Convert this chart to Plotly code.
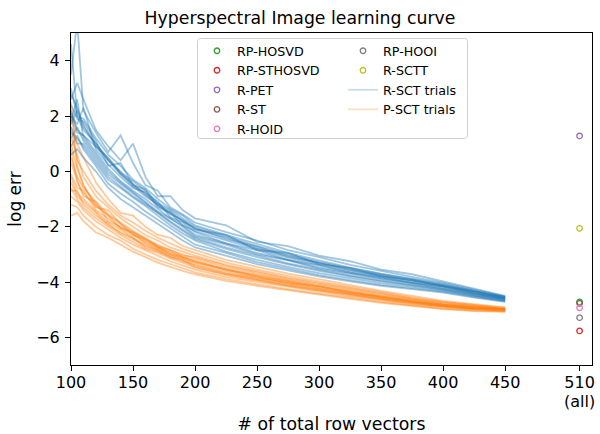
import plotly.graph_objects as go

# ---------------- data ----------------
x_trials = [100, 105, 110, 120, 130, 140, 150, 160, 170, 180, 190,
            200, 225, 250, 275, 300, 325, 350, 375, 400, 425, 450]

r_sct_trials = [
    [2.8, 2.3, 1.6, 1.0, 0.45, -0.1, -0.45, -0.85, -1.2, -1.45, -1.8,
     -2.08, -2.4, -2.78, -3.05, -3.33, -3.57, -3.78, -3.95, -4.14, -4.36, -4.57],
    [1.4, 1.2, 0.9, 0.3, -0.3, -0.6, -0.95, -1.25, -1.6, -1.95, -2.25,
     -2.5, -2.9, -3.2, -3.45, -3.68, -3.86, -4.04, -4.17, -4.31, -4.5, -4.68],
    [3.5, 5.4, 2.2, 1.4, 0.7, 1.3, 0.3, -0.5, -0.7, -1.3, -1.55,
     -1.85, -2.2, -2.5, -2.85, -3.1, -3.38, -3.6, -3.83, -4.03, -4.28, -4.52],
    [0.9, 1.3, 0.8, 0.2, -0.45, -0.8, -1.1, -1.45, -1.75, -2.05, -2.35,
     -2.65, -2.95, -3.28, -3.52, -3.75, -3.93, -4.1, -4.22, -4.35, -4.54, -4.7],
    [2.4, 1.9, 1.8, 1.1, 0.2, 0.3, -0.5, -0.8, -1.1, -1.65, -1.85,
     -2.2, -2.6, -2.85, -3.2, -3.4, -3.66, -3.83, -4.03, -4.17, -4.41, -4.6],
    [1.8, 2.6, 1.2, 0.6, 0.0, -0.4, -0.75, -1.1, -1.45, -1.7, -2.0,
     -2.35, -2.65, -3.0, -3.22, -3.52, -3.7, -3.9, -4.05, -4.23, -4.43, -4.63],
    [2.2, 1.5, 1.3, 0.9, 0.5, -0.05, -0.35, -0.7, -1.15, -1.4, -1.7,
     -2.0, -2.35, -2.7, -3.0, -3.28, -3.5, -3.72, -3.9, -4.1, -4.33, -4.55],
    [4.6, 2.0, 1.5, 1.0, 0.4, -0.1, -0.55, -0.9, -1.2, -1.55, -1.75,
     -2.1, -2.3, -2.85, -2.95, -3.35, -3.5, -3.8, -3.92, -4.15, -4.35, -4.58],
    [1.2, 1.6, 1.1, 0.5, -0.1, -0.45, -0.8, -1.15, -1.5, -1.8, -2.1,
     -2.4, -2.75, -3.05, -3.33, -3.55, -3.77, -3.95, -4.1, -4.26, -4.47, -4.65],
    [2.0, 1.7, 2.3, 0.8, 0.25, -0.2, -0.6, -0.75, -1.3, -1.5, -1.95,
     -2.15, -2.5, -2.82, -3.12, -3.38, -3.62, -3.81, -3.99, -4.16, -4.39, -4.59],
    [3.0, 2.0, 1.9, 1.2, 0.6, 0.2, -0.3, -0.6, -1.0, -1.35, -1.6,
     -1.95, -2.3, -2.62, -2.95, -3.22, -3.48, -3.7, -3.88, -4.07, -4.31, -4.54],
    [1.6, 1.0, 1.0, 0.4, -0.2, -0.55, -0.9, -1.2, -1.5, -1.85, -2.15,
     -2.45, -2.8, -3.1, -3.36, -3.6, -3.8, -3.98, -4.12, -4.28, -4.48, -4.66],
    [2.6, 3.2, 2.6, 1.5, 0.9, 0.4, 1.0, -0.2, -0.9, -0.9, -1.4,
     -1.7, -1.95, -2.55, -2.7, -3.05, -3.25, -3.55, -3.72, -3.98, -4.24, -4.5],
    [2.1, 1.4, 1.3, 0.7, 0.1, -0.35, -0.7, -1.0, -1.35, -1.7, -1.95,
     -2.3, -2.6, -2.95, -3.2, -3.47, -3.67, -3.87, -4.03, -4.2, -4.42, -4.62],
    [1.7, 2.2, 1.7, 0.9, 0.4, 0.0, -0.5, -0.65, -1.25, -1.5, -1.8,
     -2.05, -2.45, -2.72, -3.08, -3.3, -3.55, -3.75, -3.94, -4.12, -4.34, -4.56],
    [0.6, 0.8, 0.5, 0.0, -0.6, -1.0, -1.3, -1.6, -1.9, -2.2, -2.5,
     -2.75, -3.05, -3.35, -3.58, -3.8, -3.98, -4.14, -4.26, -4.38, -4.56, -4.72],
]

p_sct_trials = [
    [0.5, -0.2, -0.6, -1.1, -1.55, -1.85, -2.15, -2.45, -2.65, -2.85, -3.0,
     -3.15, -3.48, -3.71, -3.92, -4.11, -4.3, -4.48, -4.64, -4.79, -4.89, -4.98],
    [-0.9, -1.1, -1.4, -1.8, -2.1, -2.4, -2.65, -2.85, -3.05, -3.25, -3.4,
     -3.55, -3.82, -4.0, -4.19, -4.35, -4.52, -4.67, -4.8, -4.92, -5.0, -5.04],
    [1.6, 0.4, 0.0, -0.7, -1.2, -1.6, -1.85, -2.15, -2.4, -2.6, -2.8,
     -2.95, -3.3, -3.55, -3.78, -3.98, -4.18, -4.38, -4.56, -4.72, -4.83, -4.94],
    [-1.2, -1.3, -1.6, -2.0, -2.3, -2.5, -2.8, -3.0, -3.2, -3.35, -3.5,
     -3.65, -3.9, -4.09, -4.26, -4.42, -4.58, -4.72, -4.84, -4.96, -5.03, -5.06],
    [2.5, 0.2, -0.5, -1.2, -1.6, -1.9, -2.3, -2.45, -2.75, -2.9, -3.1,
     -3.22, -3.55, -3.76, -3.97, -4.16, -4.34, -4.52, -4.67, -4.82, -4.91, -4.99],
    [-0.4, -0.9, -1.1, -1.5, -1.95, -2.2, -2.4, -2.75, -2.9, -3.1, -3.25,
     -3.4, -3.7, -3.9, -4.09, -4.27, -4.44, -4.6, -4.74, -4.87, -4.96, -5.02],
    [1.0, 0.1, -0.5, -1.3, -1.4, -1.9, -2.2, -2.4, -2.7, -2.85, -3.05,
     -3.1, -3.42, -3.66, -3.88, -4.07, -4.26, -4.45, -4.62, -4.77, -4.88, -4.97],
    [-0.7, -0.7, -1.2, -1.6, -1.9, -2.25, -2.45, -2.7, -2.85, -3.1, -3.2,
     -3.45, -3.72, -3.93, -4.12, -4.29, -4.46, -4.62, -4.75, -4.88, -4.97, -5.02],
    [0.3, -0.3, -0.9, -1.1, -1.8, -2.0, -2.25, -2.6, -2.8, -3.0, -3.15,
     -3.3, -3.6, -3.84, -4.0, -4.21, -4.37, -4.56, -4.7, -4.85, -4.93, -5.0],
    [-0.1, -0.6, -0.7, -1.4, -1.7, -2.05, -2.3, -2.55, -2.75, -3.0, -3.12,
     -3.28, -3.55, -3.8, -4.05, -4.15, -4.4, -4.52, -4.72, -4.83, -4.94, -5.0],
    [1.2, 0.6, -0.2, -0.9, -1.3, -1.7, -2.0, -2.3, -2.5, -2.75, -2.9,
     -3.05, -3.38, -3.62, -3.84, -4.03, -4.22, -4.42, -4.59, -4.74, -4.86, -4.96],
    [-0.6, -1.0, -1.3, -1.7, -2.0, -2.3, -2.55, -2.8, -2.95, -3.15, -3.3,
     -3.48, -3.75, -3.95, -4.14, -4.31, -4.48, -4.63, -4.77, -4.89, -4.98, -5.03],
    [2.0, 1.0, 0.5, -0.4, -1.0, -1.5, -1.6, -2.0, -2.3, -2.4, -2.7,
     -2.85, -3.2, -3.45, -3.7, -3.9, -4.12, -4.32, -4.5, -4.68, -4.8, -4.92],
    [-1.6, -1.5, -1.8, -2.2, -2.4, -2.65, -2.9, -3.1, -3.3, -3.45, -3.6,
     -3.72, -3.96, -4.14, -4.3, -4.46, -4.61, -4.75, -4.87, -4.98, -5.05, -5.08],
    [0.8, -0.4, -0.8, -1.25, -1.6, -2.05, -2.2, -2.5, -2.72, -2.95, -3.08,
     -3.25, -3.54, -3.78, -3.98, -4.18, -4.36, -4.54, -4.69, -4.83, -4.92, -4.99],
    [-0.2, -0.8, -1.0, -1.45, -1.85, -2.1, -2.4, -2.65, -2.85, -3.05, -3.2,
     -3.36, -3.66, -3.86, -4.06, -4.24, -4.41, -4.57, -4.72, -4.85, -4.95, -5.01],
]

all_x = 510
all_label = "(all)"
method_names = ["RP-HOSVD", "RP-STHOSVD", "R-PET", "R-ST", "R-HOID", "RP-HOOI", "R-SCTT"]
method_values = [-4.72, -5.77, 1.28, -4.77, -4.93, -5.29, -2.06]
method_colors = ["#2ca02c", "#d62728", "#9467bd", "#8c564b", "#e377c2", "#7f7f7f", "#bcbd22"]
method_legend = ["legend", "legend", "legend", "legend", "legend", "legend2", "legend2"]

x_tickvals = [100, 150, 200, 250, 300, 350, 400, 450, 510]
x_ticktext = ["100", "150", "200", "250", "300", "350", "400", "450", "510"]
y_tickvals = [-6, -4, -2, 0, 2, 4]

BLUE = "rgba(31,119,180,0.42)"
ORANGE = "rgba(255,127,14,0.42)"
BLUE_LEG = "rgba(31,119,180,0.25)"
ORANGE_LEG = "rgba(255,127,14,0.25)"

fig = go.Figure()

for name, val, col, lg in zip(method_names, method_values, method_colors, method_legend):
    fig.add_trace(go.Scatter(
        x=[all_x], y=[val], mode="markers", name=name, legend=lg,
        marker=dict(symbol="circle-open", size=5.5, color=col, line=dict(width=1.3, color=col)),
    ))

for rb, po in zip(r_sct_trials, p_sct_trials):
    fig.add_trace(go.Scatter(
        x=x_trials, y=rb, mode="lines", name="R-SCT trials",
        legendgroup="rsct", showlegend=False,
        line=dict(color=BLUE, width=1.8),
    ))
    fig.add_trace(go.Scatter(
        x=x_trials, y=po, mode="lines", name="P-SCT trials",
        legendgroup="psct", showlegend=False,
        line=dict(color=ORANGE, width=1.8),
    ))

# legend-only entries for the trial groups
fig.add_trace(go.Scatter(x=[None], y=[None], mode="lines", name="R-SCT trials",
                         legend="legend2", legendgroup="rsct",
                         line=dict(color=BLUE_LEG, width=1.8)))
fig.add_trace(go.Scatter(x=[None], y=[None], mode="lines", name="P-SCT trials",
                         legend="legend2", legendgroup="psct",
                         line=dict(color=ORANGE_LEG, width=1.8)))

# plot area pixel geometry
L, R, T, B = 71, 8, 33, 69
W, H = 600, 434
pw, ph = W - L - R, H - T - B

def px_x(p):
    return (p - L) / pw

def px_y(p):
    return (H - B - p) / ph

# legend frame (rounded)
x0, x1 = px_x(197.5), px_x(467.5)
y0, y1 = px_y(138.5), px_y(38.5)
rx, ry = 3 / pw, 3 / ph
path = (f"M {x0+rx} {y0} L {x1-rx} {y0} Q {x1} {y0} {x1} {y0+ry} "
        f"L {x1} {y1-ry} Q {x1} {y1} {x1-rx} {y1} L {x0+rx} {y1} "
        f"Q {x0} {y1} {x0} {y1-ry} L {x0} {y0+ry} Q {x0} {y0} {x0+rx} {y0} Z")
fig.add_shape(type="path", path=path, xref="paper", yref="paper",
              line=dict(color="#d0d0d0", width=1), fillcolor="rgba(255,255,255,0.8)",
              layer="above")

# second line of the last tick label
fig.add_annotation(x=all_x, xref="x", y=px_y(401.5), yref="paper",
                   text=all_label, showarrow=False, yanchor="middle", borderpad=0,
                   font=dict(size=16, color="black"))

legend_font = dict(family="DejaVu Sans", size=12.7, color="black")

fig.update_layout(
    width=W, height=H,
    margin=dict(l=L, r=R, t=T, b=B, autoexpand=False),
    paper_bgcolor="white", plot_bgcolor="white",
    font=dict(family="DejaVu Sans", color="black"),
    title=dict(text="Hyperspectral Image learning curve", x=0.5, xref="container",
               y=1 - 17.5 / H, yref="container", yanchor="middle",
               font=dict(size=17.3, color="black")),
    legend=dict(x=px_x(197), y=px_y(36), xanchor="left", yanchor="top",
                bgcolor="rgba(0,0,0,0)", borderwidth=0, font=legend_font,
                tracegroupgap=0),
    legend2=dict(x=px_x(343), y=px_y(36), xanchor="left", yanchor="top",
                 bgcolor="rgba(0,0,0,0)", borderwidth=0, font=legend_font,
                 tracegroupgap=0),
    xaxis=dict(range=[100, 520], tickvals=x_tickvals, ticktext=x_ticktext,
               automargin=False,
               showgrid=False, zeroline=False, showline=True, mirror=True,
               linecolor="black", linewidth=1, ticks="outside", ticklen=5,
               tickcolor="black", tickfont=dict(size=16), ticklabelstandoff=-2,
               title=dict(text="# of total row vectors", font=dict(size=17.3), standoff=31)),
    yaxis=dict(range=[-7, 5], tickvals=y_tickvals,
               automargin=False,
               showgrid=False, zeroline=False, showline=True, mirror=True,
               linecolor="black", linewidth=1, ticks="outside", ticklen=5,
               tickcolor="black", tickfont=dict(size=16), ticklabelstandoff=2,
               title=dict(text="log err", font=dict(size=17), standoff=10)),
)

fig.write_html("out.html", post_script="document.body.style.margin='0';",
               config={"displayModeBar": False})
